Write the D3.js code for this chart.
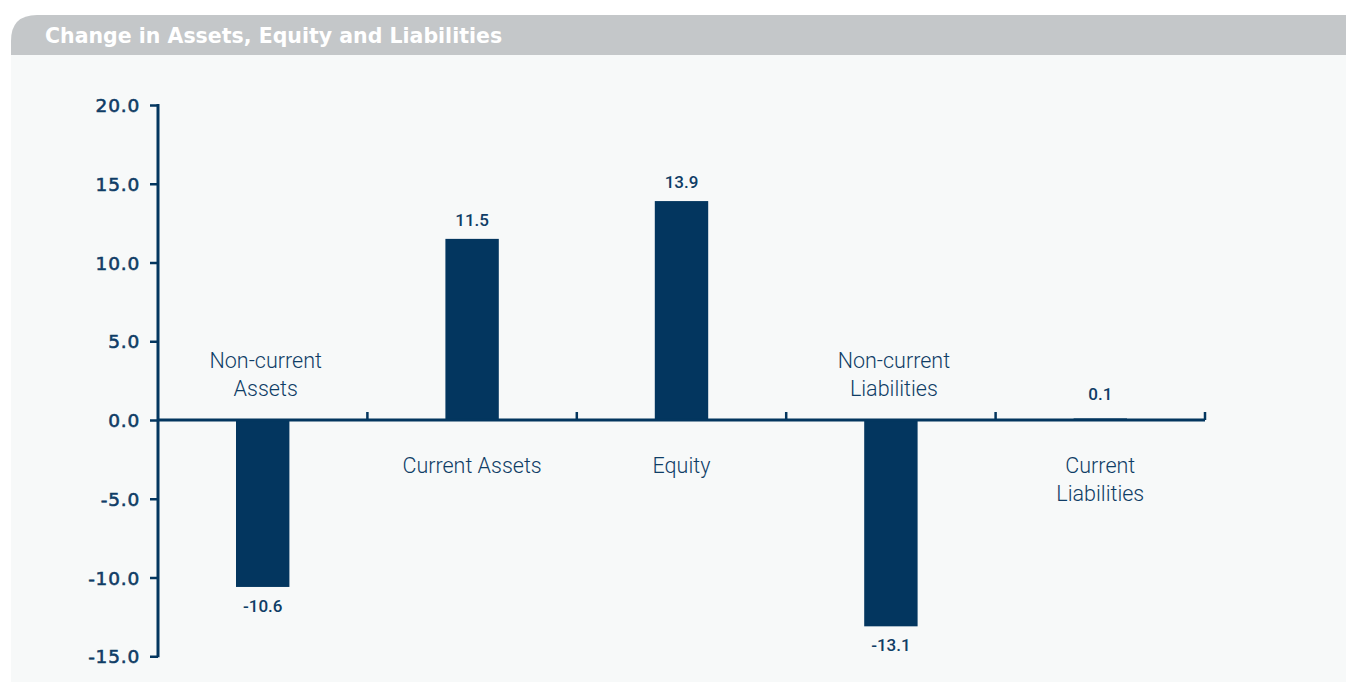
<!DOCTYPE html>
<html>
<head>
<meta charset="utf-8">
<script src="https://cdn.jsdelivr.net/npm/d3@7"></script>
<style>
  body { margin: 0; background: #ffffff; }
  text { font-family: "Roboto", "Liberation Sans", sans-serif; }
</style>
</head>
<body>
<script>
var width = 1346, height = 682;

// chart data
var categories = ["Non-current Assets", "Current Assets", "Equity", "Non-current Liabilities", "Current Liabilities"];
var labelLines = [["Non-current", "Assets"], ["Current Assets"], ["Equity"], ["Non-current", "Liabilities"], ["Current", "Liabilities"]];
var values = [-10.6, 11.5, 13.9, -13.1, 0.1];
var yTicks = [20, 15, 10, 5, 0, -5, -10, -15];

var navy = "#03365f";
var textColor = "#0f3d66";

// one decimal, plain hyphen for negatives
var fmt = d => d3.format(".1f")(d).replace("\u2212", "-");

var svg = d3.select("body").append("svg")
  .attr("width", width)
  .attr("height", height);

// panel background + header band with rounded left corner
svg.append("rect")
  .attr("x", 11).attr("y", 55)
  .attr("width", width - 11).attr("height", height - 55)
  .style("fill", "#f7f9f9");

var r = 26;
svg.append("path")
  .attr("d", "M11,55 L11," + (15 + r) + " Q11,15 " + (11 + r) + ",15 L" + width + ",15 L" + width + ",55 Z")
  .style("fill", "#c4c7c9");

svg.append("text")
  .attr("x", 45).attr("y", 43)
  .text("Change in Assets, Equity and Liabilities")
  .style("fill", "#ffffff")
  .style("font-family", "'DejaVu Sans', sans-serif")
  .style("font-size", "20.5px")
  .style("font-weight", "bold");

/*
* scales
*/
var x0 = 158, x1 = 1205;
var y = d3.scaleLinear().domain([-15, 20]).range([656.25, 105]);
var x = d3.scaleBand().domain(categories).range([x0, x1]);
var barWidth = x.bandwidth() * 0.255;

// y axis
var yAxis = d3.axisLeft(y)
  .tickValues(yTicks)
  .tickFormat(fmt)
  .tickSize(8)
  .tickPadding(10);

var gy = svg.append("g")
  .attr("transform", "translate(" + x0 + ",0)")
  .call(yAxis);
gy.select(".domain").remove();
gy.selectAll(".tick line").style("stroke", navy).style("stroke-width", 2.5);
gy.selectAll(".tick text")
  .style("fill", textColor)
  .style("stroke", textColor)
  .style("stroke-width", 0.6)
  .style("font-family", "'DejaVu Sans', sans-serif")
  .style("font-size", "18.5px")
  .style("letter-spacing", "0.8px")
  .attr("dy", "0.36em");

svg.append("line")
  .attr("x1", x0).attr("x2", x0)
  .attr("y1", y(20) - 1).attr("y2", y(-15) + 1)
  .style("stroke", navy).style("stroke-width", 3);

// bars
svg.selectAll("rect.bar")
  .data(values)
  .enter().append("rect")
  .attr("class", "bar")
  .attr("x", (d, i) => x(categories[i]) + x.bandwidth() / 2 - barWidth / 2)
  .attr("y", d => y(Math.max(0, d)))
  .attr("width", barWidth)
  .attr("height", d => Math.abs(y(d) - y(0)))
  .style("fill", navy);

// x axis line with upward ticks at band boundaries
svg.append("line")
  .attr("x1", x0).attr("x2", x1)
  .attr("y1", y(0)).attr("y2", y(0))
  .style("stroke", navy).style("stroke-width", 3);

var bounds = categories.map(c => x(c) + x.bandwidth());
svg.selectAll("line.xtick")
  .data(bounds)
  .enter().append("line")
  .attr("class", "xtick")
  .attr("x1", d => d).attr("x2", d => d)
  .attr("y1", y(0)).attr("y2", y(0) - 8)
  .style("stroke", navy).style("stroke-width", 2.5);

// value labels (kept clear of the axis ticks for tiny bars)
svg.selectAll("text.val")
  .data(values)
  .enter().append("text")
  .attr("class", "val")
  .attr("x", (d, i) => x(categories[i]) + x.bandwidth() / 2)
  .attr("y", d => d >= 0 ? Math.min(y(d), y(0) - 7) - 13 : y(d) + 25)
  .attr("text-anchor", "middle")
  .text(fmt)
  .style("fill", textColor)
  .style("font-size", "17px")
  .style("font-weight", "500");

// category labels: above axis for negative bars, below for positive
labelLines.forEach((lines, i) => {
  var cx = x(categories[i]) + x.bandwidth() / 2 + (values[i] < 0 ? 3 : 0);
  var neg = values[i] < 0;
  var t = svg.append("text")
    .attr("text-anchor", "middle")
    .style("fill", textColor)
    .style("font-size", "21.5px")
    .style("font-weight", "300");
  lines.forEach((line, j) => {
    var yy = neg ? y(0) - 52 + j * 28 - (lines.length - 2) * 28 : y(0) + 53 + j * 28;
    t.append("tspan").attr("x", cx).attr("y", yy).text(line);
  });
});
</script>
</body>
</html>
